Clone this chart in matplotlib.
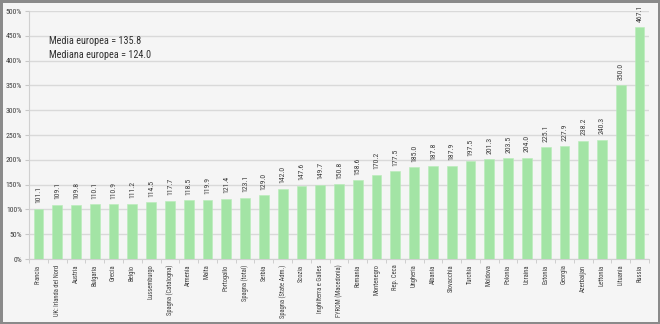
import matplotlib
matplotlib.use("Agg")
import matplotlib.pyplot as plt
from matplotlib import font_manager
import numpy as np

countries = [
    "Francia", "UK: Irlanda del Nord", "Austria", "Bulgaria", "Grecia", "Belgio",
    "Lussemburgo", "Spagna (Catalogna)", "Armenia", "Malta", "Portogallo",
    "Spagna (total)", "Serbia", "Spagna (State Adm.)", "Scozia",
    "Inghilterra e Galles", "FYROM (Macedonia)", "Romania", "Montenegro",
    "Rep. Ceca", "Ungheria", "Albania", "Slovacchia", "Turchia", "Moldova",
    "Polonia", "Ucraina", "Estonia", "Georgia", "Azerbaijan", "Lettonia",
    "Lituania", "Russia",
]
values = [
    101.1, 109.1, 109.8, 110.1, 110.9, 111.2, 114.5, 117.7, 118.5, 119.9,
    121.4, 123.1, 129.0, 142.0, 147.6, 149.7, 150.8, 158.6, 170.2, 177.5,
    185.0, 187.8, 187.9, 197.5, 201.3, 203.5, 204.0, 225.1, 227.9, 238.2,
    240.3, 350.0, 467.1,
]
y_ticks = [0, 50, 100, 150, 200, 250, 300, 350, 400, 450, 500]
media = 135.8
mediana = 124.0

# narrow sans for the labels, whichever one is installed
installed = {f.name for f in font_manager.fontManager.ttflist}
preferred = ["Roboto Condensed", "Open Sans Condensed", "PT Sans Narrow",
             "Archivo Narrow", "Liberation Sans Narrow", "Encode Sans Condensed",
             "Asap Condensed", "Liberation Sans"]
narrow = next(n for n in preferred if n in installed)
font = [narrow, "DejaVu Sans"]

bg = "#f5f5f5"
bar_color = "#a3e4a5"
txt_color = "#404040"

fig = plt.figure(figsize=(6.6, 3.24), dpi=100, facecolor=bg,
                 edgecolor="#8a8a8a", linewidth=2.5)
ax = fig.add_axes([29 / 660, 65 / 324, 620 / 660, 248 / 324])
ax.set_facecolor(bg)

x = np.arange(len(countries))
ax.bar(x, values, width=0.52, color=bar_color, edgecolor="#b8ecb9",
       linewidth=0.4, zorder=3)

for xi, v in zip(x, values):
    ax.text(xi, v + 11, f"{v:.1f}", rotation=90, ha="center", va="bottom",
            fontsize=5.6, color=txt_color, family=font)

ax.set_xlim(-0.5, len(countries) - 0.5)
ax.set_ylim(0, 500)
ax.set_yticks(y_ticks)
ax.set_yticklabels([f"{t}%" for t in y_ticks], fontsize=5.6, color=txt_color,
                   family=font)
ax.yaxis.grid(True, color="#d9d9d9", linewidth=1.0, zorder=0)

ax.set_xticks(x)
ax.set_xticklabels(countries, rotation=90, fontsize=4.7, color=txt_color,
                   family=font)
ax.tick_params(axis="x", length=0, pad=4)
ax.set_xticks(np.arange(len(countries) + 1) - 0.5, minor=True)
ax.tick_params(axis="x", which="minor", length=3, color="#c8c8c8")
ax.tick_params(axis="y", length=3, color="#c8c8c8", pad=2)

for side in ["top", "right"]:
    ax.spines[side].set_visible(False)
ax.spines["left"].set_color("#d0d0d0")
ax.spines["bottom"].set_color("#d0d0d0")

ax.text(0.033, 0.9, f"Media europea = {media:.1f}\nMediana europea = {mediana:.1f}",
        transform=ax.transAxes, ha="left", va="top", fontsize=7.3,
        color="#303030", family=font, linespacing=1.5)

fig.savefig("out.png", dpi=100, facecolor=bg, edgecolor="#8a8a8a")
